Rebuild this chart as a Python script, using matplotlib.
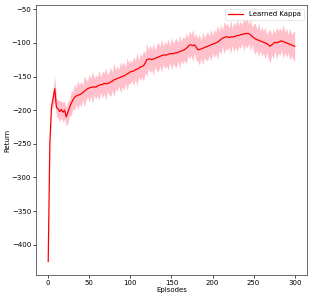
import matplotlib
matplotlib.use("Agg")
import matplotlib.pyplot as plt
import numpy as np

episodes = list(range(0, 301, 2))
mean_return = [
    -425, -250, -195, -182, -168, -196, -198, -202, -199, -203,
    -200, -210, -203, -196, -190, -185, -181, -179, -178, -177,
    -176, -174, -172, -170, -168, -167, -166, -166, -165, -166,
    -164, -163, -162, -162, -160, -161, -160, -160, -158, -157,
    -155, -154, -153, -152, -151, -150, -149, -148, -146, -145,
    -143, -142, -142, -140, -139, -138, -136, -135, -134, -130,
    -125, -124, -124, -125, -124, -123, -122, -121, -120, -119,
    -118, -118, -118, -117, -116, -116, -116, -115, -115, -114,
    -113, -112, -111, -110, -108, -106, -103, -103, -104, -103,
    -106, -110, -110, -109, -108, -107, -106, -105, -104, -103,
    -102, -101, -100, -99, -97, -95, -93, -92, -91, -91,
    -92, -91, -91, -91, -90, -89, -89, -88, -87, -87,
    -86, -86, -86, -88, -90, -92, -94, -95, -96, -97,
    -98, -99, -100, -101, -103, -105, -103, -101, -99, -100,
    -99, -98, -97, -98, -99, -100, -101, -102, -103, -104,
    -105,
]
std_return = [
    2, 4, 7, 12, 18, 14, 13, 16, 12, 15,
    13, 14, 16, 12, 18, 13, 20, 12, 22, 14,
    19, 11, 23, 15, 12, 21, 13, 24, 12, 18,
    14, 22, 11, 20, 15, 24, 12, 17, 22, 13,
    25, 14, 19, 12, 23, 16, 21, 12, 24, 15,
    18, 13, 22, 14, 25, 12, 20, 16, 23, 14,
    25, 13, 21, 15, 24, 12, 19, 22, 14, 25,
    13, 20, 16, 23, 12, 24, 15, 19, 22, 13,
    25, 14, 20, 16, 23, 13, 21, 15, 24, 12,
    20, 17, 23, 13, 25, 15, 19, 22, 14, 24,
    13, 21, 16, 25, 14, 22, 12, 24, 17, 20,
    14, 25, 13, 22, 16, 24, 15, 21, 13, 25,
    17, 22, 14, 24, 13, 20, 23, 15, 25, 14,
    22, 16, 24, 13, 21, 25, 15, 22, 13, 24,
    16, 21, 14, 25, 15, 22, 13, 24, 16, 20,
    22,
]

mean = np.array(mean_return, dtype=float)
std = np.array(std_return, dtype=float)

fig = plt.figure(figsize=(3.12, 2.99), dpi=100)
ax = fig.add_axes([0.115, 0.08, 0.869, 0.903])
ax.fill_between(episodes, mean - std, mean + std, color="pink", linewidth=0)
ax.plot(episodes, mean, color="red", lw=0.9, label="Learned Kappa")

ax.set_xlabel("Episodes", fontsize=5, labelpad=1)
ax.set_ylabel("Return", fontsize=5, labelpad=1)
ax.tick_params(labelsize=5, length=2, width=0.5, pad=1.5)
for s in ax.spines.values():
    s.set_linewidth(0.6)
    s.set_color("#555555")
leg = ax.legend(loc="upper right", fontsize=5, frameon=True, handlelength=2.2,
                borderpad=0.4, framealpha=0.8)
leg.get_frame().set_linewidth(0.4)

fig.savefig("out.png", dpi=100)
